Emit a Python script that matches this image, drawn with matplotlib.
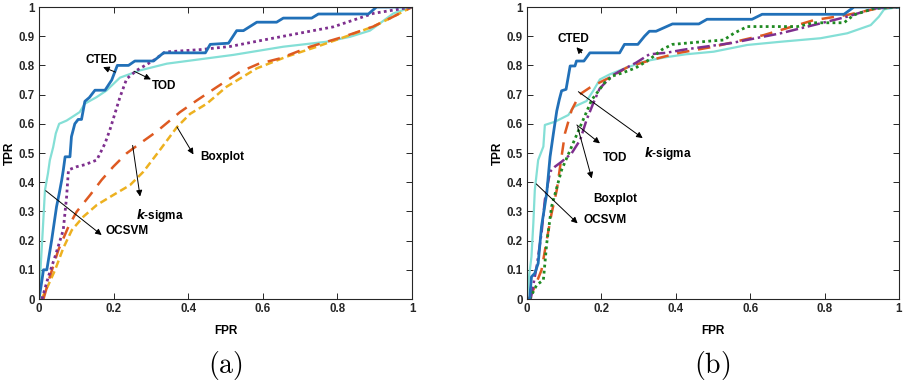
import matplotlib.pyplot as plt

plt.rcParams['font.family'] = ['Liberation Sans', 'DejaVu Sans']

# ---- panel (a) ----
cted_a_x = [0, 0.006, 0.012, 0.021, 0.034, 0.047, 0.054, 0.061, 0.065, 0.07, 0.083, 0.087, 0.096,
            0.105, 0.114, 0.123, 0.135, 0.15, 0.177, 0.195, 0.21, 0.24, 0.257, 0.307, 0.334, 0.446,
            0.459, 0.508, 0.53, 0.548, 0.584, 0.637, 0.655, 0.731, 0.749, 0.883, 0.905, 1.0]
cted_a_y = [0, 0.048, 0.1, 0.1, 0.202, 0.316, 0.36, 0.408, 0.44, 0.487, 0.487, 0.556, 0.6, 0.615,
            0.615, 0.677, 0.69, 0.715, 0.715, 0.75, 0.8, 0.8, 0.815, 0.815, 0.843, 0.843, 0.872,
            0.876, 0.919, 0.919, 0.948, 0.948, 0.962, 0.962, 0.976, 0.976, 1.0, 1.0]
ocsvm_a_x = [0, 0.004, 0.009, 0.016, 0.024, 0.029, 0.038, 0.045, 0.054, 0.074, 0.091, 0.109, 0.123,
             0.154, 0.181, 0.217, 0.271, 0.343, 0.432, 0.521, 0.655, 0.771, 0.834, 0.887, 0.914, 0.95, 1.0]
ocsvm_a_y = [0, 0.1, 0.21, 0.373, 0.43, 0.475, 0.52, 0.567, 0.6, 0.611, 0.625, 0.64, 0.669, 0.691,
             0.714, 0.758, 0.783, 0.806, 0.821, 0.836, 0.864, 0.881, 0.898, 0.919, 0.944, 0.978, 1.0]
tod_a_x = [0.008, 0.025, 0.043, 0.065, 0.074, 0.079, 0.101, 0.123, 0.155, 0.177, 0.19, 0.217,
           0.235, 0.262, 0.307, 0.338, 0.432, 0.513, 0.61, 0.789, 0.896, 1.0]
tod_a_y = [0, 0.076, 0.145, 0.236, 0.35, 0.442, 0.453, 0.46, 0.476, 0.533, 0.579, 0.691,
           0.754, 0.783, 0.817, 0.846, 0.854, 0.865, 0.889, 0.932, 0.978, 1.0]
ksig_a_x = [0.012, 0.029, 0.052, 0.079, 0.101, 0.137, 0.168, 0.199, 0.235, 0.271, 0.315, 0.378,
            0.423, 0.477, 0.539, 0.588, 0.646, 0.727, 0.816, 0.896, 0.95, 1.0]
ksig_a_y = [0, 0.076, 0.168, 0.248, 0.299, 0.356, 0.408, 0.453, 0.499, 0.533, 0.573, 0.64,
            0.68, 0.726, 0.778, 0.805, 0.824, 0.864, 0.898, 0.933, 0.967, 1.0]
box_a_x = [0.007, 0.025, 0.043, 0.065, 0.088, 0.119, 0.155, 0.199, 0.244, 0.28, 0.324, 0.37,
           0.405, 0.45, 0.503, 0.584, 0.664, 0.745, 0.834, 0.896, 0.95, 1.0]
box_a_y = [0, 0.048, 0.099, 0.174, 0.236, 0.282, 0.322, 0.356, 0.39, 0.436, 0.51, 0.589,
           0.634, 0.669, 0.727, 0.79, 0.83, 0.864, 0.904, 0.933, 0.967, 1.0]

# ---- panel (b) ----
cted_b_x = [0, 0.007, 0.012, 0.021, 0.03, 0.039, 0.053, 0.062, 0.071, 0.08, 0.087, 0.093,
            0.105, 0.116, 0.129, 0.133, 0.153, 0.169, 0.249, 0.262, 0.298, 0.316, 0.329, 0.347,
            0.391, 0.462, 0.484, 0.605, 0.632, 0.852, 0.879, 1.0]
cted_b_y = [0, 0.0, 0.076, 0.088, 0.122, 0.248, 0.362, 0.487, 0.567, 0.644, 0.684, 0.713,
            0.718, 0.798, 0.798, 0.815, 0.815, 0.843, 0.843, 0.872, 0.872, 0.9, 0.917, 0.917,
            0.942, 0.942, 0.958, 0.958, 0.975, 0.975, 1.0, 1.0]
ocsvm_b_x = [0, 0.003, 0.012, 0.017, 0.021, 0.03, 0.044, 0.048, 0.075, 0.111, 0.126, 0.16,
             0.178, 0.196, 0.222, 0.267, 0.32, 0.373, 0.427, 0.502, 0.592, 0.682, 0.789, 0.861,
             0.924, 0.946, 0.96, 1.0]
ocsvm_b_y = [0, 0.05, 0.145, 0.259, 0.373, 0.476, 0.522, 0.596, 0.607, 0.63, 0.658, 0.678,
             0.713, 0.752, 0.769, 0.792, 0.815, 0.828, 0.838, 0.847, 0.87, 0.881, 0.893, 0.91,
             0.938, 0.967, 0.992, 1.0]
ksig_b_x = [0.005, 0.021, 0.039, 0.053, 0.066, 0.08, 0.089, 0.102, 0.12, 0.142, 0.169, 0.204,
            0.231, 0.267, 0.293, 0.338, 0.409, 0.502, 0.637, 0.771, 0.861, 0.942, 1.0]
ksig_b_y = [0, 0.042, 0.099, 0.202, 0.293, 0.373, 0.453, 0.567, 0.647, 0.701, 0.724, 0.747,
            0.764, 0.792, 0.803, 0.82, 0.843, 0.864, 0.904, 0.955, 0.973, 0.995, 1.0]
tod_b_x = [0.01, 0.026, 0.039, 0.048, 0.062, 0.075, 0.093, 0.12, 0.143, 0.16, 0.178, 0.195,
           0.227, 0.258, 0.293, 0.329, 0.373, 0.427, 0.547, 0.682, 0.789, 0.861, 0.933, 1.0]
tod_b_y = [0, 0.111, 0.225, 0.339, 0.436, 0.453, 0.47, 0.499, 0.545, 0.613, 0.67, 0.72,
           0.764, 0.786, 0.809, 0.838, 0.843, 0.855, 0.876, 0.91, 0.944, 0.967, 0.995, 1.0]
box_b_x = [0.007, 0.026, 0.044, 0.053, 0.066, 0.093, 0.12, 0.147, 0.174, 0.209, 0.231, 0.258,
           0.293, 0.329, 0.364, 0.391, 0.489, 0.529, 0.556, 0.592, 0.727, 0.771, 0.852, 0.879,
           0.933, 1.0]
box_b_y = [0, 0.048, 0.065, 0.19, 0.316, 0.442, 0.522, 0.602, 0.682, 0.741, 0.764, 0.775,
           0.792, 0.82, 0.855, 0.872, 0.883, 0.887, 0.91, 0.933, 0.933, 0.946, 0.946, 0.973,
           0.995, 1.0]

ticks = [0, 0.1, 0.2, 0.3, 0.4, 0.5, 0.6, 0.7, 0.8, 0.9, 1]
tick_labels = ['0', '0.1', '0.2', '0.3', '0.4', '0.5', '0.6', '0.7', '0.8', '0.9', '1']
xticks = [0, 0.2, 0.4, 0.6, 0.8, 1]
xtick_labels = ['0', '0.2', '0.4', '0.6', '0.8', '1']

BLUE = '#2170B8'
CYAN = '#84DFD6'
ORANGE = '#DE5A22'
YELLOW = '#EDB120'
PURPLE = '#7E2F8E'
GREEN = '#1F8A22'

fig = plt.figure(figsize=(9.06, 3.82), dpi=100)
ax1 = fig.add_axes([39 / 906, 83 / 382, 373 / 906, 292 / 382])
ax2 = fig.add_axes([527 / 906, 83 / 382, 372 / 906, 292 / 382])


def style(ax):
    ax.set_xlim(0, 1)
    ax.set_ylim(0, 1)
    ax.set_xticks(xticks)
    ax.set_xticklabels(xtick_labels, fontsize=8.3, fontweight='bold')
    ax.set_yticks(ticks)
    ax.set_yticklabels(tick_labels, fontsize=8.3, fontweight='bold')
    ax.tick_params(direction='in', length=4, width=0.7, top=True, right=True, pad=3, colors='#262626')
    for s in ax.spines.values():
        s.set_linewidth(0.8)
        s.set_color('#262626')
    ax.set_xlabel('FPR', fontsize=8.5, fontweight='bold', labelpad=7)
    ax.set_ylabel('TPR', fontsize=8.5, fontweight='bold', labelpad=2)


def arrow(ax, tail, head):
    ax.annotate('', xy=head, xytext=tail,
                arrowprops=dict(arrowstyle='-|>', color='black', lw=0.7,
                                mutation_scale=9, shrinkA=0, shrinkB=0))


def label(ax, x, y, s):
    ax.text(x, y, s, fontsize=8.5, fontweight='bold', ha='center', va='center',
            math_fontfamily='dejavusans')


# (a)
ax1.plot(ocsvm_a_x, ocsvm_a_y, color=CYAN, lw=1.6)
ax1.plot(box_a_x, box_a_y, color=YELLOW, lw=1.8, dashes=(3, 1.6))
ax1.plot(ksig_a_x, ksig_a_y, color=ORANGE, lw=1.8, dashes=(5, 3.5))
ax1.plot(tod_a_x, tod_a_y, color=PURPLE, lw=2, dashes=(1, 1.2))
ax1.plot(cted_a_x, cted_a_y, color=BLUE, lw=2)
style(ax1)

label(ax1, 0.168, 0.82, 'CTED')
arrow(ax1, (0.205, 0.777), (0.172, 0.794))
label(ax1, 0.336, 0.728, 'TOD')
arrow(ax1, (0.255, 0.78), (0.3, 0.752))
label(ax1, 0.49, 0.486, 'Boxplot')
arrow(ax1, (0.37, 0.589), (0.414, 0.495))
label(ax1, 0.325, 0.285, r'$\mathbfit{k}$-sigma')
arrow(ax1, (0.251, 0.526), (0.271, 0.351))
label(ax1, 0.235, 0.233, 'OCSVM')
arrow(ax1, (0.018, 0.371), (0.168, 0.219))

# (b)
ax2.plot(ocsvm_b_x, ocsvm_b_y, color=CYAN, lw=1.6)
ax2.plot(ksig_b_x, ksig_b_y, color=ORANGE, lw=1.8, dashes=(5, 3.5))
ax2.plot(tod_b_x, tod_b_y, color=PURPLE, lw=1.8, dashes=(5, 1.5, 1, 1.5))
ax2.plot(box_b_x, box_b_y, color=GREEN, lw=2, dashes=(1, 1.2))
ax2.plot(cted_b_x, cted_b_y, color=BLUE, lw=2)
style(ax2)

label(ax2, 0.125, 0.892, 'CTED')
arrow(ax2, (0.147, 0.843), (0.133, 0.862))
label(ax2, 0.38, 0.499, r'$\mathbfit{k}$-sigma')
arrow(ax2, (0.138, 0.71), (0.311, 0.551))
label(ax2, 0.236, 0.483, 'TOD')
arrow(ax2, (0.134, 0.596), (0.196, 0.533))
label(ax2, 0.237, 0.343, 'Boxplot')
arrow(ax2, (0.136, 0.59), (0.174, 0.413))
label(ax2, 0.21, 0.269, 'OCSVM')
arrow(ax2, (0.025, 0.394), (0.136, 0.259))

fig.text(225 / 906, 1 - 365 / 382, r'$\mathrm{(a)}$', fontsize=20, ha='center', va='center',
         math_fontfamily='cm')
fig.text(712 / 906, 1 - 365 / 382, r'$\mathrm{(b)}$', fontsize=20, ha='center', va='center',
         math_fontfamily='cm')

fig.savefig('out.png', dpi=100)
